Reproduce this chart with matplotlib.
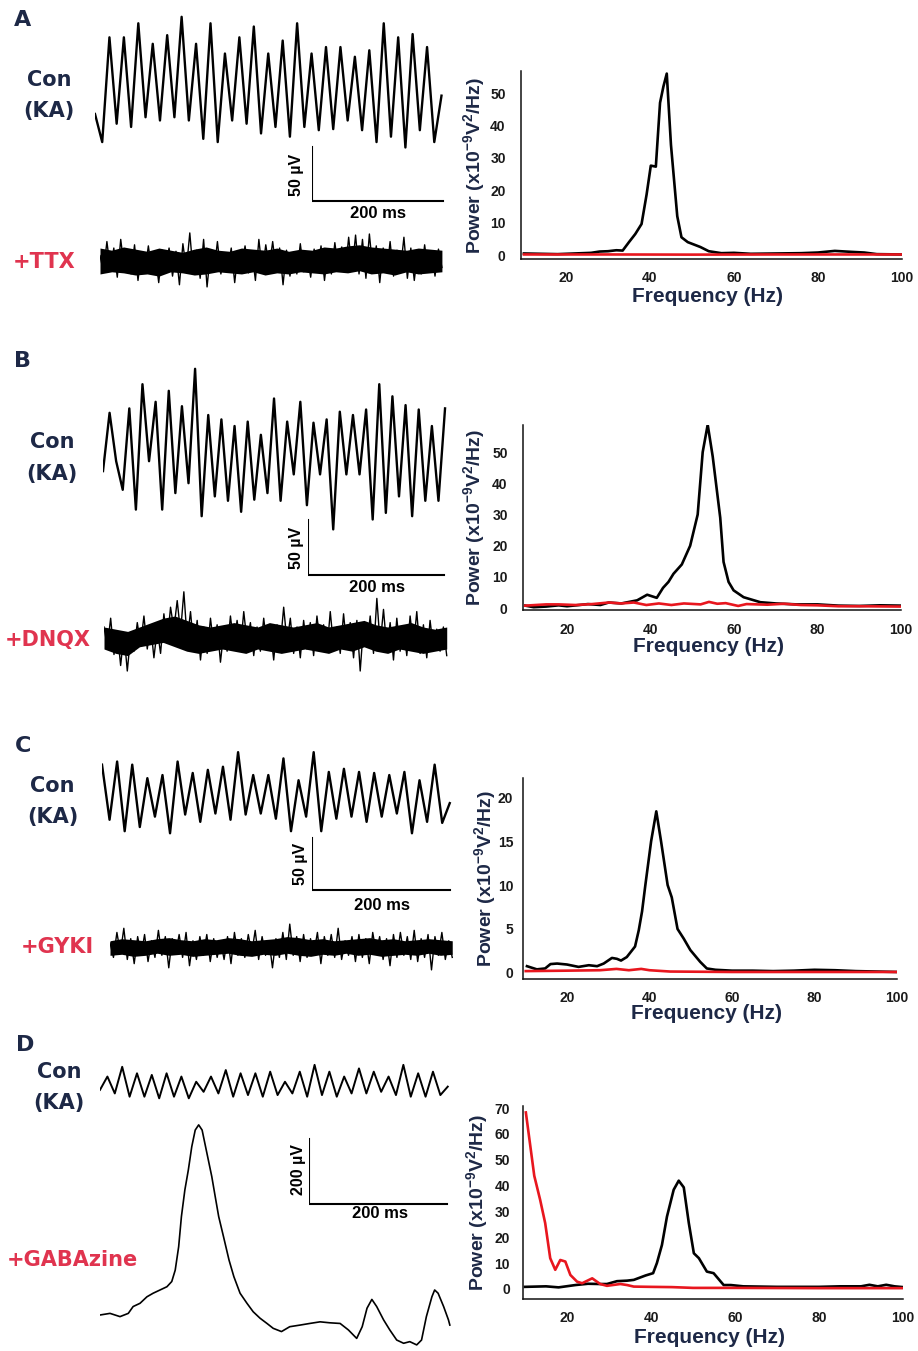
import numpy as np
import matplotlib
matplotlib.use("Agg")
import matplotlib.pyplot as plt

plt.rcParams['mathtext.fontset'] = 'custom'
plt.rcParams['mathtext.rm'] = 'Liberation Sans:bold'
plt.rcParams['mathtext.it'] = 'Liberation Sans:bold'
plt.rcParams['mathtext.bf'] = 'Liberation Sans:bold'

# ---------------- data: power spectra (x1e-9 V^2/Hz) ----------------
A_con_f = [10, 14, 18, 22, 26, 28, 30, 32, 33.5, 35, 36.5, 38, 39.2, 40.2, 41.4, 42.4, 43.2, 44, 45,
           46.5, 47.5, 49, 51, 52, 54, 57, 60, 64, 70, 76, 80, 84, 88, 91, 94, 100]
A_con_p = [0.5, 0.4, 0.3, 0.5, 0.7, 1.1, 1.2, 1.5, 1.4, 4.0, 6.5, 9.6, 18.7, 27.6, 27.3, 47, 52, 56, 34,
           12, 5.5, 4.0, 3.0, 2.5, 1.2, 0.6, 0.7, 0.4, 0.5, 0.6, 0.8, 1.3, 1.0, 0.8, 0.3, 0.2]
A_drug_f = [10, 30, 50, 70, 100]
A_drug_p = [0.2, 0.2, 0.15, 0.2, 0.2]

B_con_f = [10, 12, 15, 18, 20, 23, 25, 28, 30, 33, 36.8, 39.2, 41.5, 43, 44.3, 45.5, 47.5, 49.5, 51.3,
           52.5, 53.7, 54.9, 56.7, 57.5, 58.7, 59.9, 62.3, 66.3, 70, 75, 80, 85, 90, 95, 100]
B_con_p = [0.8, 0.3, 0.5, 0.9, 0.6, 1.0, 1.3, 1.0, 1.8, 1.5, 2.5, 4.3, 3.3, 6.5, 8.4, 11, 14, 20, 30,
           50, 58.8, 48.6, 29, 14.8, 8.4, 5.7, 3.5, 1.9, 1.5, 1.2, 1.2, 0.8, 0.7, 0.9, 0.8]
B_drug_f = [10, 15, 18, 22, 26, 30, 33, 36, 39, 42, 45, 48, 52, 54, 56, 58, 61, 63, 68, 72, 76, 80,
            85, 90, 100]
B_drug_p = [0.8, 1.2, 1.2, 1.0, 1.3, 1.8, 1.5, 1.8, 1.0, 1.5, 1.0, 1.5, 1.2, 2.0, 1.4, 1.6, 0.7, 1.3,
            1.1, 1.4, 1.0, 0.9, 0.6, 0.6, 0.5]

C_con_f = [10.3, 12.7, 14.7, 16, 17.6, 20, 22.8, 25.3, 27.3, 28.9, 30.9, 32.1, 33.1, 34.5, 35.5, 36.5,
           37.4, 38.2, 39.0, 40.4, 41.65, 42.8, 44.4, 45.4, 46.8, 48.3, 49.9, 52.3, 53.9, 56, 60, 65,
           70, 75, 80, 85, 90, 95, 100]
C_con_p = [0.76, 0.4, 0.5, 1.0, 1.06, 0.95, 0.68, 0.87, 0.76, 1.06, 1.7, 1.6, 1.4, 1.8, 2.4, 3.0,
           4.85, 7.0, 10, 15, 18.4, 15, 10, 8.6, 5.0, 3.9, 2.6, 1.25, 0.5, 0.35, 0.25, 0.25, 0.2, 0.25,
           0.35, 0.3, 0.2, 0.15, 0.1]
C_drug_f = [10, 20, 28, 32, 35, 38, 40, 45, 60, 80, 100]
C_drug_p = [0.2, 0.25, 0.3, 0.45, 0.3, 0.45, 0.3, 0.15, 0.1, 0.1, 0.1]

D_con_f = [10, 15, 18, 22, 25, 27.9, 29.5, 31.9, 34.3, 35.9, 38.7, 40.5, 41.4, 42.6, 43.8, 45.4, 46.6,
           47.8, 49, 50.2, 51.4, 53.3, 54.9, 57.3, 59, 62, 70, 80, 85, 90, 92, 94, 96, 98, 100]
D_con_p = [0.8, 1.0, 0.6, 1.5, 2.0, 1.9, 1.9, 3.0, 3.2, 3.5, 5.2, 6.1, 10, 17, 28, 38.4, 41.9, 39.3,
           25.5, 13.8, 11.9, 6.7, 6.1, 1.5, 1.5, 1.0, 0.8, 0.8, 1.0, 1.0, 1.6, 1.0, 1.6, 1.0, 0.7]
D_drug_f = [10.2, 12.2, 13.6, 14.8, 16, 17.2, 18.4, 19.6, 20.8, 22.4, 23.6, 26, 27.9, 29.5, 32.7, 34.3,
            35.9, 40, 45, 50, 60, 80, 100]
D_drug_p = [68.3, 43.8, 34.5, 25.5, 11.9, 7.4, 11.2, 10.6, 5.4, 2.8, 2.2, 4.1, 1.9, 1.2, 1.9, 1.5,
            0.9, 0.8, 0.7, 0.4, 0.4, 0.3, 0.3]

# ---------------- data: field potential traces (uV, successive extrema) ----------------
A_con_uV = [-25, -51, 46, -34, 46, -37, 59, -28, 40, -31, 48, -28, 65, -31, 40, -48, 59, -51, 31, -31,
            46, -34, 56, -43, 31, -37, 43, -46, 59, -37, 31, -40, 37, -39, 37, -31, 28, -40, 34, -51,
            59, -46, 46, -56, 49, -40, 37, -51, -8]
A_drug_uV = [5, -10, 18, -8, 12, -15, 20, -6, 10, -12, 15, -18, 8, -10, 14, -9, 6, -20, 10, -5, 12, -14,
             9, -22, 16, -8, 26, -12, 10, -16, 20, -24, 8, -10, 18, -12, 6, -8, 12, -20, 9, -6, 14, -11,
             8, -18, 20, -10, 15, -6, 18, -9, 12, -22, 10, -14, 8, -12, 16, -10, 6, -15, 11, -8, 14,
             -18, 9, -12, 17, -7, 13, -10, 22, -9, 24, -12, 20, -16, 25, -8, 14, -20, 12, -10, 18, -14,
             10, -8, 22, -16, 12, -18, 8, -12, 15, -10, 9, -14, 11, -6]
A_drug_core_up = [12, 10, 13, 11, 9, 12, 10, 8, 11, 13, 10, 9, 12, 11, 10, 12, 9, 11, 10, 13, 12, 14,
                  15, 13, 12, 11, 10, 12, 11, 10]
A_drug_core_lo = [-12, -10, -11, -13, -12, -14, -10, -11, -13, -12, -10, -11, -12, -10, -13, -11, -12,
                  -10, -11, -12, -10, -11, -9, -12, -11, -13, -10, -12, -11, -10]
B_con_uV = [-21, 32, -12, -38, 36, -56, 58, -12, 42, -56, 52, -41, 38, -32, 72, -62, 30, -44, 26, -48,
            20, -58, 24, -47, 12, -41, 45, -48, 24, -24, 42, -52, 23, -24, 26, -74, 33, -24, 30, -24,
            35, -65, 58, -59, 47, -44, 39, -62, 35, -48, 20, -48, 36]
B_drug_uV = [10, -8, 18, -15, 6, -25, 4, -30, 2, -12, 14, -6, 20, -10, 12, -18, 8, -14, 22, -4, 28, 8,
             34, 5, 42, -2, 24, -10, 16, -20, 10, -14, 18, -8, 12, -22, 6, -12, 20, -6, 16, -10, 24,
             -4, 14, -16, 10, -12, 18, -8, 8, -20, 12, -6, 28, -4, 18, -14, 10, -18, 16, -10, 14, -16,
             20, -6, 12, -12, 24, -8, 10, -14, 22, -10, 14, -18, 16, -30, 12, -8, 20, -14, 36, -6, 26,
             -10, 14, -20, 18, -12, 10, -16, 20, -8, 24, -14, 12, -18, 16, -10, 8, -12, 10, -16]
B_drug_core_up = [10, 8, 6, 10, 14, 18, 20, 16, 12, 10, 12, 14, 12, 10, 14, 12, 10, 12, 14, 10, 12, 14,
                  16, 12, 10, 12, 14, 10, 8, 10]
B_drug_core_lo = [-10, -14, -16, -8, -6, -4, -8, -12, -14, -12, -10, -12, -14, -10, -12, -14, -12, -10,
                  -12, -14, -10, -12, -8, -12, -14, -10, -12, -14, -12, -10]
C_con_uV = [34, -19, 37, -30, 34, -26, 21, -16, 24, -32, 37, -14, 26, -21, 29, -13, 32, -19, 46, -14,
            24, -13, 24, -18, 40, -30, 19, -16, 46, -30, 27, -18, 30, -16, 27, -21, 26, -16, 24, -13,
            27, -32, 19, -21, 34, -22, -3]
C_drug_uV = [4, -10, 14, -6, 18, -12, 8, -16, 10, -8, 12, -14, 6, -10, 16, -8, 10, -20, 8, -6, 12, -10,
             14, -18, 6, -12, 10, -8, 12, -14, 8, -10, 6, -12, 10, -16, 14, -8, 8, -10, 12, -6, 16, -12,
             10, -8, 6, -20, 8, -10, 14, -12, 22, -8, 10, -14, 12, -10, 8, -6, 14, -16, 10, -8, 12, -10,
             18, -12, 6, -8, 10, -14, 12, -10, 8, -16, 14, -6, 10, -12, 8, -18, 12, -10, 14, -8, 10,
             -12, 16, -14, 8, -10, 12, -22, 10, -8, 14, -12, 6, -10]
C_drug_core_up = [6, 8, 7, 6, 8, 9, 7, 6, 8, 7, 9, 8, 6, 7, 8, 10, 9, 7, 8, 6, 7, 8, 9, 7, 8, 6, 7, 8,
                  7, 6]
C_drug_core_lo = [-8, -7, -9, -8, -6, -8, -7, -9, -8, -7, -6, -8, -9, -7, -8, -6, -8, -9, -7, -8, -6,
                  -8, -7, -9, -8, -7, -8, -6, -8, -7]
D_con_uV = [-15, 26, -26, 56, -36, 36, -36, 31, -41, 36, -36, 26, -41, 10, -21, 26, -26, 46, -36, 36,
            -31, 36, -36, 41, -31, 10, -26, 41, -36, 62, -31, 41, -36, 26, -26, 51, -26, 41, -21, 26,
            -31, 62, -36, 36, -36, 41, -31, -5]
D_drug_ms = [0, 14.5, 29, 41, 48, 58, 68, 77, 87, 97, 104, 109, 114, 118, 123, 128, 133, 138, 143, 148,
             152, 157, 162, 167, 172, 179, 187, 194, 203, 213, 222, 232, 242, 251, 263, 275, 290, 304,
             319, 333, 348, 360, 372, 380, 387, 394, 401, 411, 420, 430, 440, 449, 459, 466, 473, 481,
             485, 490, 498, 505, 507]
D_drug_uV = [0, 5, -5, 5, 26, 36, 56, 67, 77, 87, 103, 138, 210, 303, 385, 446, 518, 569, 585, 569, 528,
             477, 426, 364, 303, 241, 169, 118, 67, 36, 10, -10, -26, -41, -51, -36, -31, -26, -21, -24,
             -26, -46, -72, -36, 21, 48, 26, -15, -46, -77, -87, -82, -92, -77, -5, 56, 77, 67, 26, -15,
             -31]

panel_letters = ['A', 'B', 'C', 'D']
drug_labels = ['+TTX', '+DNQX', '+GYKI', '+GABAzine']
scale_uV = [50, 50, 50, 200]
scale_ms = 200

# ---------------- figure ----------------
W, H = 918, 1351
fig = plt.figure(figsize=(W / 100, H / 100), dpi=100)
NAVY = '#1d2846'
RED_TXT = '#e0344f'
RED_LINE = '#e8161e'


def px_axes(x0, x1, y0, y1):
    return fig.add_axes([x0 / W, 1 - y1 / H, (x1 - x0) / W, (y1 - y0) / H])


def trace_axes(x0, yc, px_ms, px_uv, width=365, half=140):
    ax = px_axes(x0, x0 + width, yc - half, yc + half)
    ax.set_xlim(0, width / px_ms)
    ax.set_ylim(-half / px_uv, half / px_uv)
    ax.axis('off')
    return ax


def ftext(x, y, s, **kw):
    fig.text(x / W, 1 - y / H, s, ha='center', va='center', **kw)


def draw_trace(x0, yc, px_ms, px_uv, dur, vals, lw=1.5, core=None):
    ax = trace_axes(x0, yc, px_ms, px_uv)
    t = np.linspace(0, dur, len(vals))
    ax.plot(t, vals, color='black', lw=lw)
    if core is not None:
        up, lo = core
        tc = np.linspace(0, dur, len(up))
        ax.fill_between(tc, lo, up, color='black', lw=0)
    return ax


def scale_bar(cx, cy, px_ms, px_uv, uv):
    ax = trace_axes(cx, cy, px_ms, px_uv, width=160, half=80)
    ax.plot([0, 0, scale_ms], [uv, 0, 0], color='black', lw=1.5, solid_joinstyle='miter')


# traces
draw_trace(95, 87, 0.655, 1.08, 529, A_con_uV, lw=1.7)
draw_trace(100, 261, 0.655, 1.08, 522, A_drug_uV, lw=1.0, core=(A_drug_core_up, A_drug_core_lo))
draw_trace(103, 448, 0.68, 1.10, 503, B_con_uV, lw=1.7)
draw_trace(104, 638, 0.68, 1.10, 504, B_drug_uV, lw=1.0, core=(B_drug_core_up, B_drug_core_lo))
draw_trace(102, 800, 0.69, 1.04, 504, C_con_uV, lw=1.7)
draw_trace(110, 947, 0.69, 1.04, 496, C_drug_uV, lw=1.0, core=(C_drug_core_up, C_drug_core_lo))
draw_trace(100, 1085, 0.69, 0.325, 504, D_con_uV, lw=1.4)
axg = trace_axes(100, 1315, 0.69, 0.325, half=230)
axg.plot(D_drug_ms, D_drug_uV, color='black', lw=1.2)

# scale bars
scale_bar(312, 201, 0.655, 1.08, scale_uV[0])
scale_bar(308, 575, 0.68, 1.10, scale_uV[1])
scale_bar(312, 890, 0.69, 1.04, scale_uV[2])
scale_bar(309, 1204, 0.69, 0.325, scale_uV[3])

lab_font = dict(family='DejaVu Sans', weight='bold', fontsize=15)
sb_font = dict(family='Liberation Sans', weight='bold')

# panel letters, condition labels
letter_pos = [(23, 20), (23, 361), (23, 746), (25, 1045)]
con_pos = [(49, 80), (52, 442), (52, 786), (59, 1072)]
ka_pos = [(49, 111), (52, 474), (53, 817), (59, 1103)]
drug_pos = [(44, 262), (48, 640), (57, 947), (72, 1260)]
uv_pos = [(297, 175), (296, 548), (300, 864), (298, 1170)]
ms_pos = [(378, 214), (377, 588), (382, 906), (380, 1214)]
for i in range(4):
    ftext(*letter_pos[i], panel_letters[i], color=NAVY, family='DejaVu Sans', weight='bold', fontsize=16)
    ftext(*con_pos[i], 'Con', color=NAVY, **lab_font)
    ftext(*ka_pos[i], '(KA)', color=NAVY, **lab_font)
    ftext(*drug_pos[i], drug_labels[i], color=RED_TXT, **lab_font)
    ftext(*uv_pos[i], f'{scale_uV[i]} µV', rotation=90, color='black', fontsize=11.5, **sb_font)
    ftext(*ms_pos[i], f'{scale_ms} ms', color='black', fontsize=12, **sb_font)

# spectra
spec_boxes = [(521, 902, 71, 259), (523, 901, 425, 610), (523, 897, 778, 979), (523, 903, 1106, 1299)]
spec_xlim = [(9.3, 100), (9.46, 100), (9.34, 100), (9.52, 100)]
spec_ylim = [(-1.2, 56.8), (-0.6, 58.7), (-0.7, 22.2), (-3.9, 70.8)]
spec_yticks = [[0, 10, 20, 30, 40, 50], [0, 10, 20, 30, 40, 50], [0, 5, 10, 15, 20],
               [0, 10, 20, 30, 40, 50, 60, 70]]
ytick_pad = [11, 11, 7, 9.5]
ylab_x = [-0.09, -0.094, -0.068, -0.088]
xlab_y = [-0.149, -0.146, -0.124, -0.15]
spec_data = [(A_con_f, A_con_p, A_drug_f, A_drug_p), (B_con_f, B_con_p, B_drug_f, B_drug_p),
             (C_con_f, C_con_p, C_drug_f, C_drug_p), (D_con_f, D_con_p, D_drug_f, D_drug_p)]
for i in range(4):
    ax = px_axes(*spec_boxes[i])
    cf, cp, df, dp = spec_data[i]
    ax.plot(cf, cp, color='black', lw=1.9, zorder=2)
    ax.plot(df, dp, color=RED_LINE, lw=1.9, zorder=3)
    ax.set_xlim(*spec_xlim[i])
    ax.set_ylim(*spec_ylim[i])
    ax.set_xticks([20, 40, 60, 80, 100])
    ax.set_yticks(spec_yticks[i])
    for s in ['top', 'right']:
        ax.spines[s].set_visible(False)
    for s in ['left', 'bottom']:
        ax.spines[s].set_linewidth(1.1)
        ax.spines[s].set_color('#111111')
    ax.tick_params(axis='x', length=0, pad=9, labelsize=10, labelcolor='#1a1a1a')
    ax.tick_params(axis='y', length=0, pad=ytick_pad[i], labelsize=10, labelcolor='#1a1a1a')
    for lab in ax.get_xticklabels() + ax.get_yticklabels():
        lab.set_fontfamily('Liberation Sans')
        lab.set_fontweight('bold')
    ax.set_ylabel(r'Power (x10$^{-9}$V$^{2}$/Hz)', fontsize=14, color=NAVY,
                  family='Liberation Sans', weight='bold')
    ax.yaxis.set_label_coords(ylab_x[i], 0.5)
    ax.set_xlabel('Frequency (Hz)', fontsize=15, color=NAVY, family='Liberation Sans', weight='bold')
    ax.xaxis.set_label_coords(0.49, xlab_y[i])
    ax.patch.set_alpha(0)

fig.savefig('out.png', dpi=100)
